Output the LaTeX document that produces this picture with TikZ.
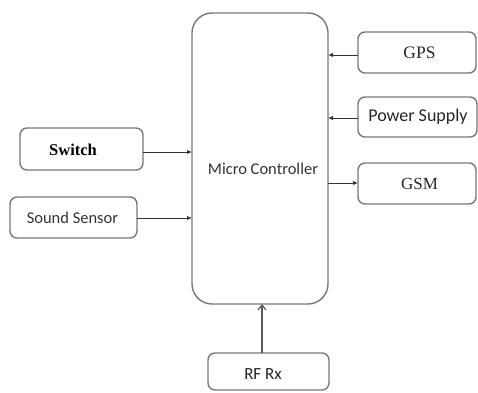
\documentclass[tikz,border=0pt]{standalone}
\usepackage{fontspec}
\setmainfont{Liberation Serif}
\newfontfamily\calib{Carlito}
\usetikzlibrary{arrows.meta}
\definecolor{boxgray}{RGB}{120,120,120}
\tikzset{
  x=1pt,y=-1pt,
  blk/.style={draw=boxgray,line width=1.4pt,rounded corners=7pt,fill=white},
  arr/.style={draw=black!80,line width=1pt,-{Latex[length=5pt,width=4.5pt]}},
  openarr/.style={draw=black!65,line width=1.2pt,-{Straight Barb[length=5pt,width=8pt]}}
}
\begin{document}
\begin{tikzpicture}
\useasboundingbox (0,0) rectangle (478,392);
\fill[white] (0,0) rectangle (478,392);
% main controller
\draw[blk,rounded corners=20pt] (192,13) rectangle (328,304);
\node[font=\calib\fontsize{16.5}{18}\selectfont,text=black!80] (mct) at (263,169) {Micro Controller};
\coordinate (mcl1) at (192,152);
\coordinate (mcl2) at (192,218);
\coordinate (mcr1) at (328,55);
\coordinate (mcr2) at (328,118);
\coordinate (mcr3) at (328,183);
\coordinate (mcb) at (262,304);
% boxes
\draw[blk] (20,128) rectangle (143,170);
\node[font=\bfseries\fontsize{16.5}{18}\selectfont] (sw) at (73,150) {Switch};
\coordinate (swr) at (143,152);
\draw[blk] (10,197) rectangle (137,238);
\node[font=\calib\fontsize{16.5}{18}\selectfont,text=black!80] (ss) at (72.5,217.5) {Sound Sensor};
\coordinate (ssr) at (137,218);
\draw[blk] (358,32) rectangle (476,73);
\node[font=\fontsize{17.5}{19}\selectfont,text=black!85] (gps) at (419.5,52.5) {GPS};
\coordinate (gpsl) at (358,55);
\draw[blk] (358,97) rectangle (477,137);
\node[font=\calib\fontsize{18}{20}\selectfont,text=black!85] (ps) at (418,117) {Power Supply};
\coordinate (psl) at (358,118);
\draw[blk] (358,163) rectangle (476,204);
\node[font=\fontsize{17}{19}\selectfont,text=black!85] (gsm) at (419.5,184) {GSM};
\coordinate (gsml) at (358,183);
\draw[blk] (208,353) rectangle (329,390);
\node[font=\calib\fontsize{17}{19}\selectfont,text=black!85] (rf) at (263,374) {RF Rx};
\coordinate (rft) at (262,353);
% connectors
\draw[arr] (swr) -- (mcl1);
\draw[arr] (ssr) -- (mcl2);
\draw[arr] (gpsl) -- (mcr1);
\draw[arr] (psl) -- (mcr2);
\draw[arr] (mcr3) -- (gsml);
\draw[openarr] (rft) -- (mcb);
\end{tikzpicture}
\end{document}
